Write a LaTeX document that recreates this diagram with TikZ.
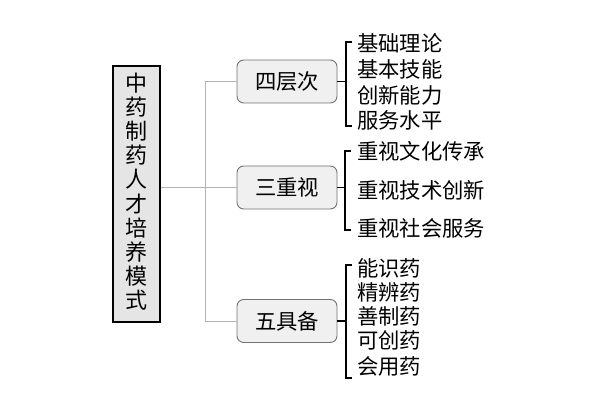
\documentclass[tikz,border=0pt]{standalone}
\usepackage{fontspec}
\newfontfamily\cjk{Noto Sans CJK SC}
\begin{document}
\begin{tikzpicture}[x=0.75pt,y=-0.75pt,
  mainbox/.style={draw=black,line width=0.9pt,fill=black!10,minimum width=47*0.75pt,minimum height=256*0.75pt,inner sep=0pt,font=\cjk\fontsize{16.5pt}{18pt}\selectfont,align=center},
  catbox/.style={draw=black!55,line width=0.7pt,fill=black!6,rounded corners=5pt,minimum width=100*0.75pt,minimum height=43*0.75pt,inner sep=0pt,font=\cjk\fontsize{16pt}{18pt}\selectfont},
  item/.style={anchor=west,inner sep=0pt,font=\cjk\fontsize{16pt}{18pt}\selectfont},
  link/.style={draw=black!30,line width=0.6pt},
  brk/.style={draw=black,line width=1pt}]
\useasboundingbox (0,0) rectangle (607,417);
\node[mainbox] (main) at (136.5,194) {};
\foreach \c [count=\i] in {中,药,制,药,人,才,培,养,模,式}
  \node[inner sep=0pt,font=\cjk\fontsize{16.5pt}{18pt}\selectfont] (m\i) at (136.5,{83+(\i-1)*24.1}) {\c};
\node[catbox] (c1) at (287,81.5) {四层次};
\node[catbox] (c2) at (287,187.5) {三重视};
\node[catbox] (c3) at (287,321) {五具备};
\coordinate (j1) at (205,81.5);
\coordinate (j3) at (205,321);
\draw[link] (main.east |- c2.west) -- (c2.west);
\draw[link] (c1.west) -- (j1) -- (j3) -- (c3.west);
% group 1
\node[item] (a1) at (357,43) {基础理论};
\node[item] (a2) at (357,69) {基本技能};
\node[item] (a3) at (357,95) {创新能力};
\node[item] (a4) at (357,120) {服务水平};
\coordinate (b1t) at (346,42);
\coordinate (b1b) at (346,126);
\draw[brk] (c1.east) -- (c1.east -| b1t);
\draw[brk] ([xshift=4.5]b1t) -- (b1t) -- (b1b) -- ([xshift=4.5]b1b);
% group 2
\node[item] (b1) at (357,151) {重视文化传承};
\node[item] (b2) at (357,190) {重视技术创新};
\node[item] (b3) at (357,228) {重视社会服务};
\coordinate (b2t) at (345,151);
\coordinate (b2b) at (345,230);
\draw[brk] (c2.east) -- (c2.east -| b2t);
\draw[brk] ([xshift=4.5]b2t) -- (b2t) -- (b2b) -- ([xshift=4.5]b2b);
% group 3
\node[item] (d1) at (357,268) {能识药};
\node[item] (d2) at (357,292) {精辨药};
\node[item] (d3) at (357,316) {善制药};
\node[item] (d4) at (357,340) {可创药};
\node[item] (d5) at (357,366) {会用药};
\coordinate (b3t) at (346,265);
\coordinate (b3b) at (346,378);
\draw[brk] (c3.east) -- (c3.east -| b3t);
\draw[brk] ([xshift=4.5]b3t) -- (b3t) -- (b3b) -- ([xshift=4.5]b3b);
\end{tikzpicture}
\end{document}
